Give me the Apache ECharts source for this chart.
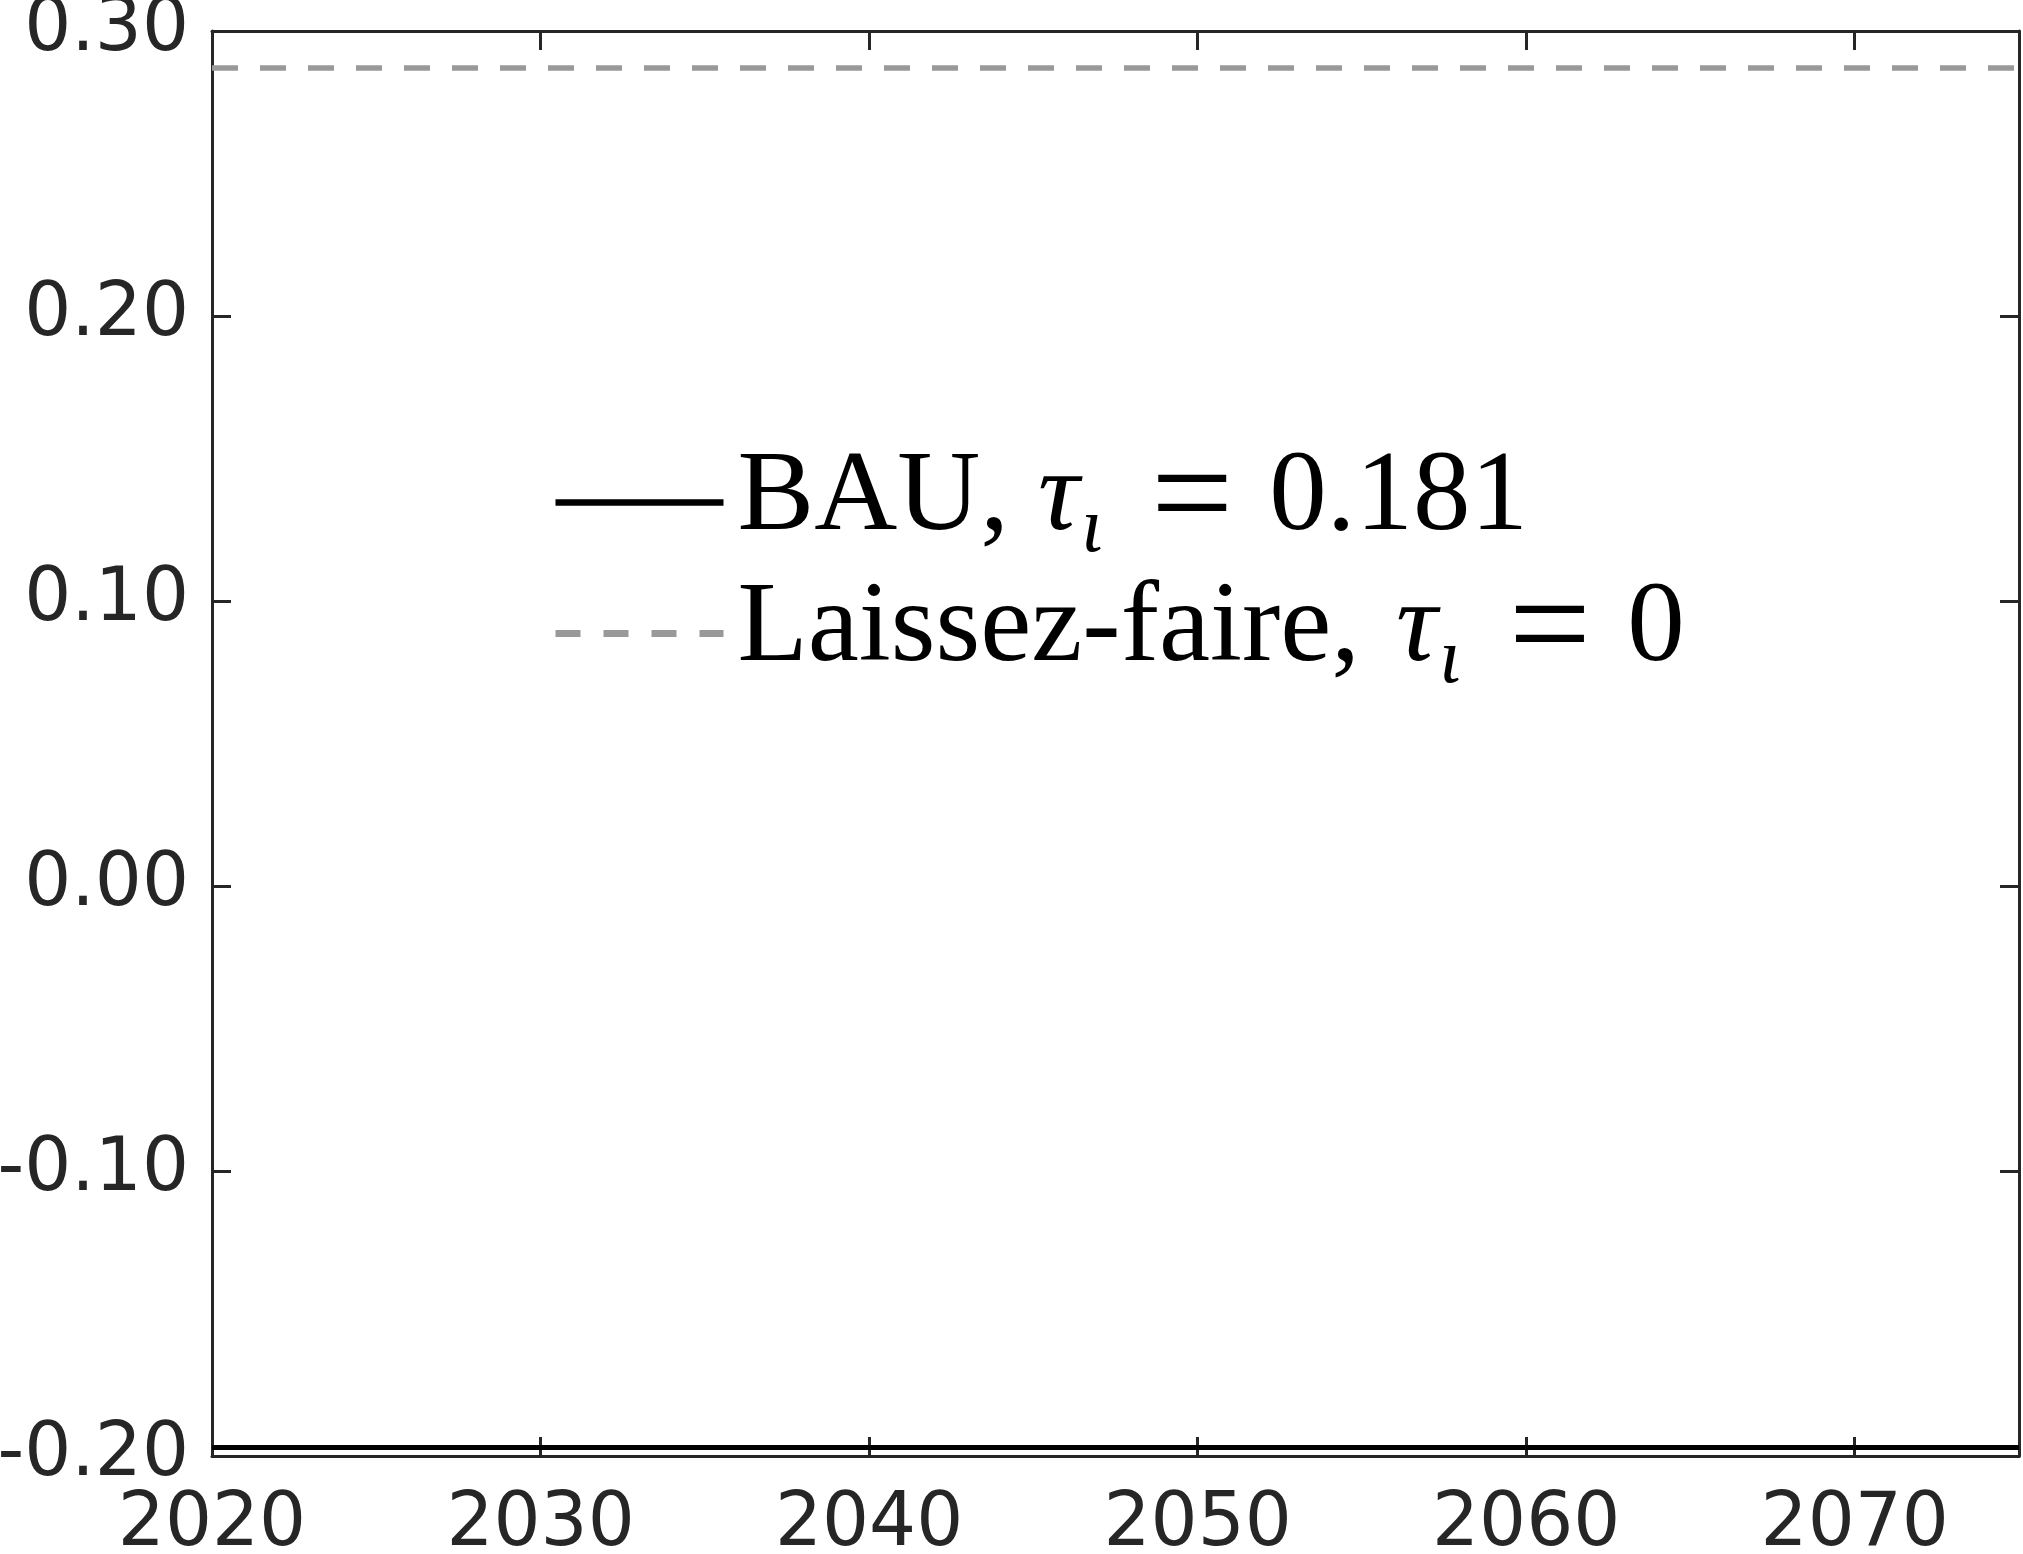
<!DOCTYPE html>
<html>
<head>
<meta charset="utf-8">
<script src="https://cdn.jsdelivr.net/npm/echarts@6/dist/echarts.min.js"></script>
<style>
html, body { margin: 0; padding: 0; background: #ffffff; }
#chart { width: 2023px; height: 1554px; }
</style>
</head>
<body>
<div id="chart"></div>
<script>
// ---- data ----
const years = [2020, 2025, 2030, 2035, 2040, 2045, 2050, 2055, 2060, 2065, 2070, 2075];
const bauValues = [-0.197, -0.197, -0.197, -0.197, -0.197, -0.197, -0.197, -0.197, -0.197, -0.197, -0.197, -0.197];
const laissezFaireValues = [0.287, 0.287, 0.287, 0.287, 0.287, 0.287, 0.287, 0.287, 0.287, 0.287, 0.287, 0.287];
const seriesNames = ['BAU', 'Laissez-faire'];
const legendLabels = [
  '{a|BAU,}{t|τ}{s|ι}{e|=}{n|0.181}',
  '{b|Laissez-faire,}{t2|τ}{s|ι}{e|=}{n2|0}'
];
const xMin = 2020, xMax = 2075, xStep = 10;
const yMin = -0.2, yMax = 0.3, yStep = 0.1;

// ---- styles ----
const axisColor = '#262626';
const sans = 'DejaVu Sans';
const serif = 'Liberation Serif';

function pairs(xs, ys) { return xs.map((x, i) => [x, ys[i]]); }

const chart = echarts.init(document.getElementById('chart'), null, { renderer: 'canvas' });

const axisLineStyle = { show: true, onZero: false, lineStyle: { color: axisColor, width: 3 } };
const axisTickStyle = { show: true, inside: true, length: 19, lineStyle: { color: axisColor, width: 3 } };

function tok(extra) {
  return Object.assign({ fontFamily: serif, fontSize: 115, color: '#000', lineHeight: 130, height: 100 }, extra);
}

const option = {
  animation: false,
  backgroundColor: '#ffffff',
  grid: { left: 212, right: 4, top: 31, bottom: 98, containLabel: false, outerBoundsMode: 'none' },
  xAxis: [
    {
      type: 'value', position: 'bottom', min: xMin, max: xMax, interval: xStep,
      axisLine: axisLineStyle, axisTick: axisTickStyle, splitLine: { show: false },
      axisLabel: {
        show: true, margin: 33, fontFamily: sans, fontSize: 74, color: axisColor,
        formatter: v => String(v)
      }
    },
    {
      type: 'value', position: 'top', min: xMin, max: xMax, interval: xStep,
      axisLine: axisLineStyle, axisTick: axisTickStyle, splitLine: { show: false },
      axisLabel: { show: false }
    }
  ],
  yAxis: [
    {
      type: 'value', position: 'left', min: yMin, max: yMax, interval: yStep,
      axisLine: axisLineStyle, axisTick: axisTickStyle, splitLine: { show: false },
      axisLabel: {
        show: true, margin: 23, fontFamily: sans, fontSize: 74, color: axisColor,
        formatter: v => v.toFixed(2)
      }
    },
    {
      type: 'value', position: 'right', min: yMin, max: yMax, interval: yStep,
      axisLine: axisLineStyle, axisTick: axisTickStyle, splitLine: { show: false },
      axisLabel: { show: false }
    }
  ],
  legend: {
    orient: 'vertical',
    left: 552,
    top: 430,
    padding: 0,
    itemWidth: 168,
    itemHeight: 20,
    itemGap: -15,
    selectedMode: false,
    itemStyle: { opacity: 0, borderWidth: 0 },
    data: [
      { name: seriesNames[0], itemStyle: { opacity: 0 }, lineStyle: { width: 6.5 } },
      { name: seriesNames[1], itemStyle: { opacity: 0 }, lineStyle: { width: 7, type: [25, 23] } }
    ],
    formatter: name => legendLabels[seriesNames.indexOf(name)],
    textStyle: {
      color: '#000000',
      rich: {
        a:  tok({ padding: [0, 0, 8, 9] }),
        b:  tok({ padding: [0, 0, 8, 9] }),
        t:  tok({ fontStyle: 'italic', padding: [0, 0, 8, 29] }),
        t2: tok({ fontStyle: 'italic', padding: [0, 0, 8, 36] }),
        s:  tok({ fontStyle: 'italic', fontSize: 78, height: 60, padding: [56, 0, 0, 2] }),
        e:  tok({ fontSize: 146, padding: [1, 0, 0, 48] }),
        n:  tok({ padding: [0, 0, 8, 36] }),
        n2: tok({ padding: [0, 0, 8, 36] })
      }
    }
  },
  series: [
    {
      name: seriesNames[0], type: 'line', xAxisIndex: 0, yAxisIndex: 0,
      data: pairs(years, bauValues),
      symbol: 'none', showSymbol: false,
      lineStyle: { color: '#000000', width: 5 },
      itemStyle: { color: '#000000' },
      z: 3
    },
    {
      name: seriesNames[1], type: 'line', xAxisIndex: 0, yAxisIndex: 0,
      data: pairs(years, laissezFaireValues),
      symbol: 'none', showSymbol: false,
      lineStyle: { color: '#999999', width: 5.5, type: [26, 22] },
      itemStyle: { color: '#999999' },
      z: 2
    }
  ]
};

chart.setOption(option);
</script>
</body>
</html>
